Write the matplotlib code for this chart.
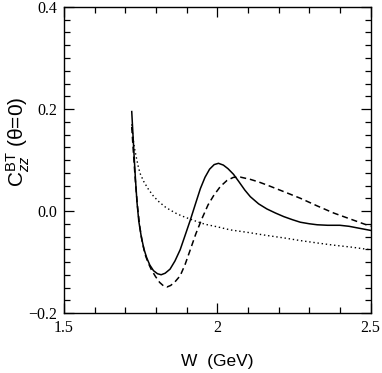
import matplotlib
matplotlib.use("Agg")
import matplotlib.pyplot as plt
from matplotlib.ticker import MultipleLocator

plt.rcParams["mathtext.fontset"] = "custom"
plt.rcParams["mathtext.rm"] = "Liberation Sans"
plt.rcParams["mathtext.it"] = "Liberation Sans:italic"

solid_W = [1.721, 1.725, 1.729, 1.733, 1.738, 1.744, 1.752, 1.761, 1.770, 1.780, 1.792, 1.805, 1.817,
           1.830, 1.846, 1.862, 1.879, 1.895, 1.912, 1.930, 1.945, 1.960, 1.975, 1.990, 2.004, 2.020,
           2.035, 2.053, 2.070, 2.090, 2.108, 2.135, 2.162, 2.190, 2.217, 2.245, 2.271, 2.300, 2.326,
           2.360, 2.400, 2.430, 2.456, 2.500]
solid_C = [0.195, 0.150, 0.105, 0.064, 0.018, -0.020, -0.050, -0.075, -0.092, -0.106, -0.117, -0.123, -0.125,
           -0.122, -0.114, -0.098, -0.076, -0.048, -0.018, 0.016, 0.044, 0.066, 0.082, 0.091, 0.0935, 0.090,
           0.083, 0.072, 0.058, 0.041, 0.028, 0.014, 0.004, -0.004, -0.011, -0.017, -0.022, -0.025, -0.027,
           -0.028, -0.028, -0.030, -0.033, -0.038]

dashed_W = [1.721, 1.725, 1.729, 1.734, 1.740, 1.747, 1.755, 1.765, 1.775, 1.785, 1.798, 1.812, 1.825,
            1.836, 1.848, 1.862, 1.879, 1.895, 1.912, 1.930, 1.950, 1.970, 1.988, 2.010, 2.032, 2.053,
            2.075, 2.108, 2.135, 2.162, 2.217, 2.271, 2.326, 2.380, 2.440, 2.500]
dashed_C = [0.165, 0.128, 0.092, 0.050, 0.008, -0.030, -0.060, -0.086, -0.102, -0.115, -0.128, -0.140, -0.147,
            -0.149, -0.146, -0.139, -0.127, -0.105, -0.076, -0.045, -0.015, 0.012, 0.030, 0.048, 0.060, 0.066,
            0.0665, 0.062, 0.057, 0.051, 0.038, 0.025, 0.010, -0.004, -0.017, -0.030]

dotted_W = [1.721, 1.724, 1.727, 1.730, 1.736, 1.742, 1.748, 1.760, 1.775, 1.792, 1.810, 1.830, 1.846,
            1.870, 1.890, 1.912, 1.935, 1.960, 2.000, 2.042, 2.100, 2.162, 2.220, 2.271, 2.330, 2.380,
            2.440, 2.500]
dotted_C = [0.170, 0.150, 0.135, 0.123, 0.105, 0.088, 0.074, 0.058, 0.043, 0.029, 0.018, 0.008, 0.002,
            -0.006, -0.011, -0.016, -0.021, -0.026, -0.031, -0.037, -0.042, -0.048, -0.053, -0.058, -0.063,
            -0.067, -0.071, -0.076]

x_ticks = [1.5, 2.0, 2.5]
x_ticklabels = ["1.5", "2", "2.5"]
y_ticks = [-0.2, 0.0, 0.2, 0.4]
y_ticklabels = ["\u22120.2", "0.0", "0.2", "0.4"]

fig = plt.figure(figsize=(3.82, 3.73), dpi=100)
ax = fig.add_axes([64 / 382, 1 - 313 / 373, 306.5 / 382, 306 / 373])

ax.plot(solid_W, solid_C, color="black", lw=1.1, ls="-")
ax.plot(dashed_W, dashed_C, color="black", lw=1.1, ls=(0, (4, 2.5)))
ax.plot(dotted_W, dotted_C, color="black", lw=1.0, ls=(0, (1, 2)))

ax.set_xlim(1.5, 2.5)
ax.set_ylim(-0.2, 0.4)
ax.set_xticks(x_ticks)
ax.set_xticklabels(x_ticklabels)
ax.set_yticks(y_ticks)
ax.set_yticklabels(y_ticklabels)
ax.xaxis.set_minor_locator(MultipleLocator(0.1))
ax.yaxis.set_minor_locator(MultipleLocator(0.025))
ax.tick_params(which="both", direction="in", top=True, right=True, width=0.9)
ax.tick_params(which="major", length=7, labelsize=11.5, pad=5)
ax.tick_params(which="minor", length=4)
for lab in ax.get_xticklabels() + ax.get_yticklabels():
    lab.set_fontfamily("Liberation Serif")
for s in ax.spines.values():
    s.set_linewidth(1.0)

ax.set_xlabel("W  (GeV)", fontfamily="Liberation Sans", fontsize=12.5)
ax.xaxis.set_label_coords(0.5, -0.135)
ax.set_ylabel("C$^{\\mathrm{BT}}_{zz}$ (\u03b8=0)", fontfamily="Liberation Sans", fontsize=15)
ax.yaxis.set_label_coords(-0.105, 0.56)

fig.savefig("out.png", dpi=100)
